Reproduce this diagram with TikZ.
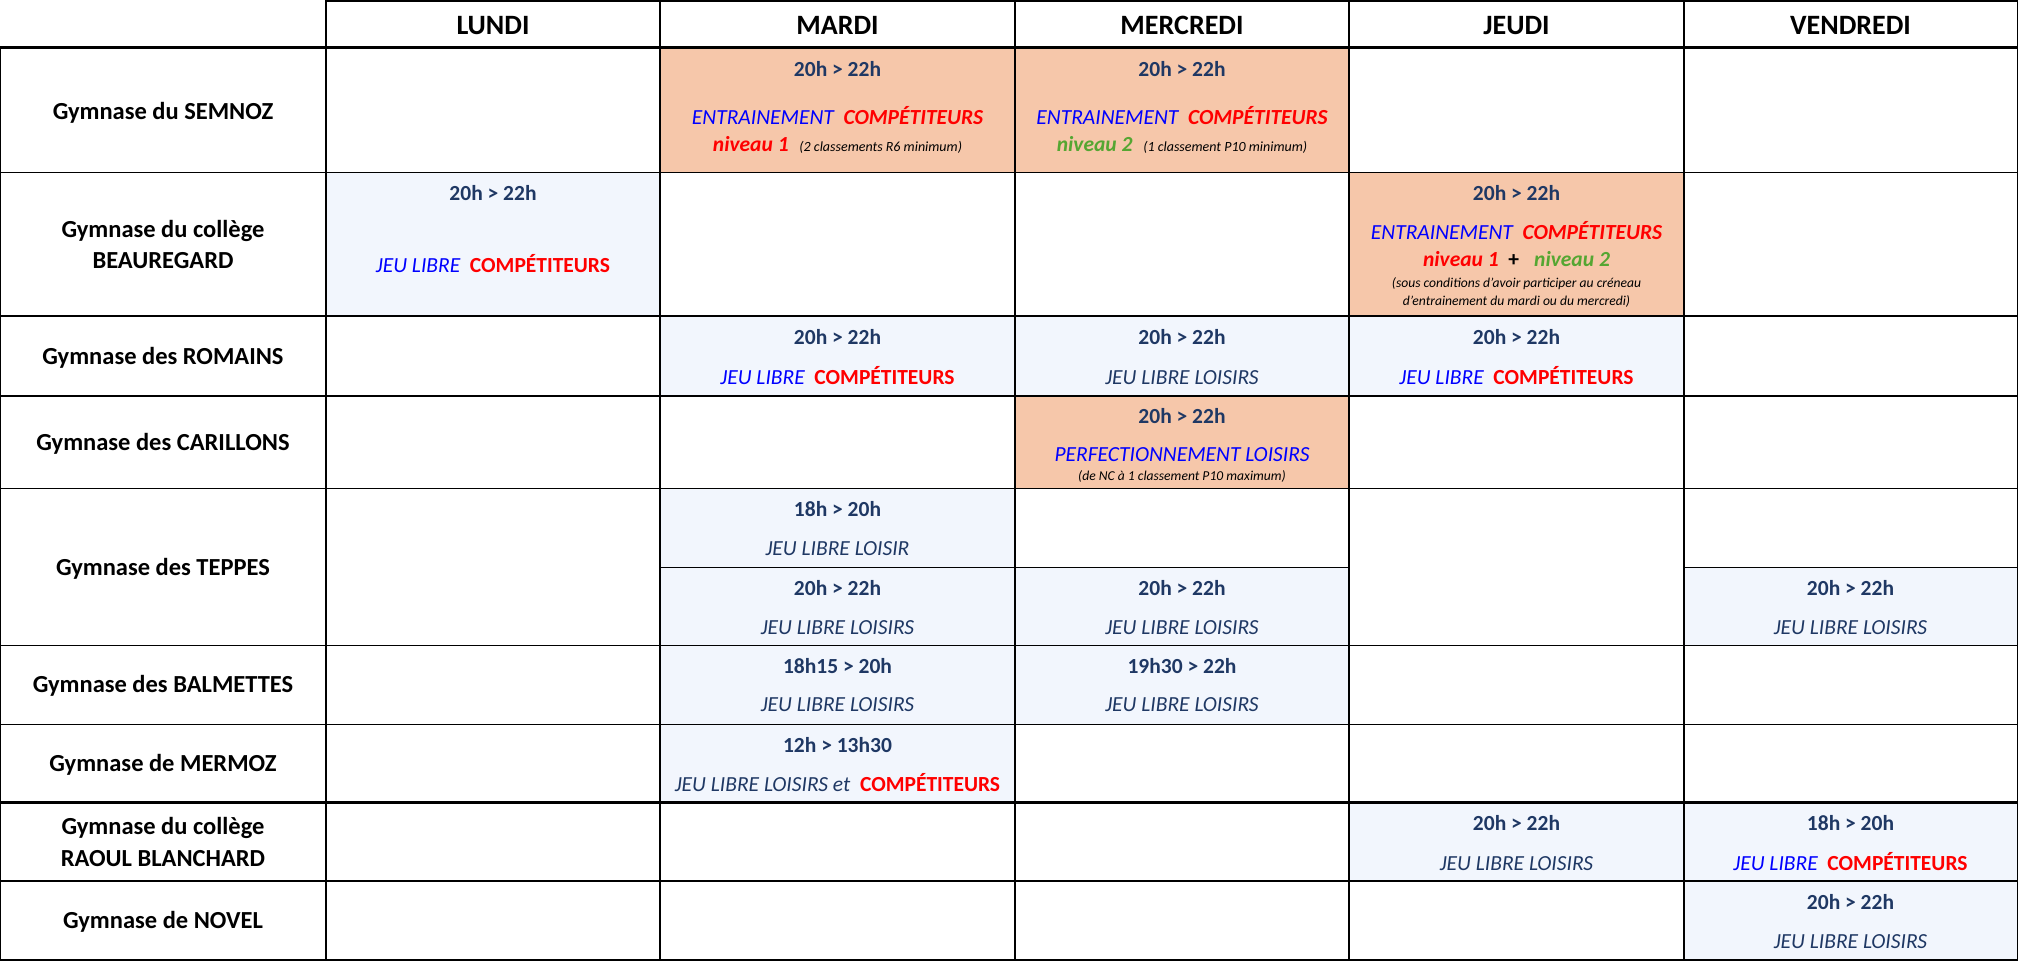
\documentclass[tikz,border=0pt]{standalone}
\usepackage{fontspec}
\setmainfont{Carlito}
\definecolor{navy}{HTML}{1F3864}
\definecolor{peach}{HTML}{F6C7AA}
\definecolor{lblue}{HTML}{F2F6FD}
\definecolor{pureblue}{HTML}{0000FF}
\definecolor{pred}{HTML}{FF0000}
\definecolor{pgreen}{HTML}{55A632}
\newcommand{\cp}{{\bfseries\color{pred}COMPÉTITEURS}}
\newcommand{\cpu}{{\bfseries\upshape\color{pred}COMPÉTITEURS}}
\newcommand{\jl}{{\itshape\color{pureblue}JEU LIBRE}}
\newcommand{\ent}{{\itshape\color{pureblue}ENTRAINEMENT}}
\newcommand{\nvA}{{\bfseries\itshape\color{pred}niveau 1}}
\newcommand{\nvB}{{\bfseries\itshape\color{pgreen}niveau 2}}
\tikzset{
  hd/.style={font=\fontsize{28}{30}\selectfont\bfseries, anchor=base, inner sep=0pt},
  gym/.style={font=\fontsize{24.5}{30}\selectfont\bfseries, anchor=base, inner sep=0pt},
  tm/.style={font=\fontsize{21.5}{24}\selectfont\bfseries, text=navy, anchor=base, inner sep=0pt},
  act/.style={font=\fontsize{21.5}{24}\selectfont\itshape, anchor=base, inner sep=0pt},
  lois/.style={act, text=navy},
  sm/.style={font=\fontsize{13.6}{17}\selectfont\itshape, anchor=base, inner sep=0pt},
  gl/.style={line width=1.3pt, black},
  glthick/.style={line width=2.7pt, black},
  pfill/.style={fill=peach},
  bfill/.style={fill=lblue},
}
\begin{document}
\begin{tikzpicture}[x=1pt,y=-1pt]
\useasboundingbox (0,0) rectangle (2019,962);
% ---- fills
% peach
\fill[pfill] (660,47.7) rectangle (1015,172.3);
\fill[pfill] (1015,47.7) rectangle (1349,172.3);
\fill[pfill] (1349,172.3) rectangle (1684,316);
\fill[pfill] (1015,396) rectangle (1349,488.3);
% light blue
\fill[bfill] (326,172.3) rectangle (660,316);
\fill[bfill] (660,316) rectangle (1015,396);
\fill[bfill] (1015,316) rectangle (1349,396);
\fill[bfill] (1349,316) rectangle (1684,396);
\fill[bfill] (660,488.3) rectangle (1015,567.3);
\fill[bfill] (660,567.3) rectangle (1015,645.5);
\fill[bfill] (1015,567.3) rectangle (1349,645.5);
\fill[bfill] (1684,567.3) rectangle (2017,645.5);
\fill[bfill] (660,645.5) rectangle (1015,724.3);
\fill[bfill] (1015,645.5) rectangle (1349,724.3);
\fill[bfill] (660,724.3) rectangle (1015,802.7);
\fill[bfill] (1349,802.7) rectangle (1684,881);
\fill[bfill] (1684,802.7) rectangle (2017,881);
\fill[bfill] (1684,881) rectangle (2017,960);

% ---- grid
% horizontal
\draw[gl] (326,1) -- (2017,1);
\draw[glthick] (0,47.7) -- (2018,47.7);
\draw[gl] (0,172.3) -- (2017,172.3);
\draw[gl] (0,316) -- (2017,316);
\draw[glthick] (0,396) -- (2018,396);
\draw[gl] (0,488.3) -- (2017,488.3);
\draw[gl] (660,567.3) -- (1349,567.3);
\draw[gl] (1684,567.3) -- (2017,567.3);
\draw[gl] (0,645.5) -- (2017,645.5);
\draw[gl] (0,724.3) -- (2017,724.3);
\draw[glthick] (0,802.7) -- (2018,802.7);
\draw[gl] (0,881) -- (2017,881);
\draw[gl] (0,960) -- (2017,960);
% vertical
\draw[gl] (0.8,47.7) -- (0.8,960.6);
\draw[gl] (326,0.4) -- (326,960.6);
\draw[gl] (660,0.4) -- (660,960.6);
\draw[line width=1.8pt] (1015,0.4) -- (1015,960.6);
\draw[line width=1.8pt] (1349,0.4) -- (1349,960.6);
\draw[gl] (1684,0.4) -- (1684,960.6);
\draw[gl] (2017.5,0.4) -- (2017.5,960.6);

% ---- header
\node[hd] (hLun) at (493,34) {LUNDI};
\node[hd] (hMar) at (837.5,34) {MARDI};
\node[hd] (hMer) at (1182,34) {MERCREDI};
\node[hd] (hJeu) at (1516.5,34) {JEUDI};
\node[hd] (hVen) at (1850.5,34) {VENDREDI};

% ---- gym labels
\node[gym] (g1) at (163,119) {Gymnase du SEMNOZ};
\node[gym] (g2a) at (163,237.3) {Gymnase du collège};
\node[gym] (g2b) at (163,268.3) {BEAUREGARD};
\node[gym] (g3) at (163,364.3) {Gymnase des ROMAINS};
\node[gym] (g4) at (163,450.7) {Gymnase des CARILLONS};
\node[gym] (g5) at (163,575.3) {Gymnase des TEPPES};
\node[gym] (g6) at (163,692.7) {Gymnase des BALMETTES};
\node[gym] (g7) at (163,771.7) {Gymnase de MERMOZ};
\node[gym] (g8a) at (163,834) {Gymnase du collège};
\node[gym] (g8b) at (163,866) {RAOUL BLANCHARD};
\node[gym] (g9) at (163,928.3) {Gymnase de NOVEL};

% ---- SEMNOZ
\node[tm] (s2t) at (837.5,76) {20h > 22h};
\node[act] (s2a) at (837.5,124) {\ent\hspace{0.45em}\cp};
\node[act] (s2b) at (837.5,151.5) {\nvA\hspace{0.5em}{\fontsize{14}{17}\selectfont\itshape\color{black}(2 classements R6 minimum)}};
\node[tm] (s3t) at (1182,76) {20h > 22h};
\node[act] (s3a) at (1182,124) {\ent\hspace{0.45em}\cp};
\node[act] (s3b) at (1182,151.5) {\nvB\hspace{0.5em}{\fontsize{14}{17}\selectfont\itshape\color{black}(1 classement P10 minimum)}};

% ---- BEAUREGARD
\node[tm] (b1t) at (493,200) {20h > 22h};
\node[act] (b1a) at (493,272.3) {\jl\hspace{0.45em}\cpu};
\node[tm] (b4t) at (1516.5,200) {20h > 22h};
\node[act] (b4a) at (1516.5,239) {\ent\hspace{0.45em}\cp};
\node[act] (b4b) at (1516.5,266.7) {\nvA\hspace{0.45em}{\bfseries\upshape\color{black}+}\hspace{0.7em}\nvB};
\node[sm] (b4c) at (1516.5,287.7) {(sous conditions d'avoir participer au créneau};
\node[sm] (b4d) at (1516.5,305.7) {d'entrainement du mardi ou du mercredi)};

% ---- ROMAINS
\node[tm] (r2t) at (837.5,344.3) {20h > 22h};
\node[act] (r2a) at (837.5,384) {\jl\hspace{0.45em}\cpu};
\node[tm] (r3t) at (1182,344.3) {20h > 22h};
\node[lois] (r3a) at (1182,384) {JEU LIBRE LOISIRS};
\node[tm] (r4t) at (1516.5,344.3) {20h > 22h};
\node[act] (r4a) at (1516.5,384) {\jl\hspace{0.45em}\cpu};

% ---- CARILLONS
\node[tm] (c3t) at (1182,423.3) {20h > 22h};
\node[act, text=pureblue] (c3a) at (1182,461) {PERFECTIONNEMENT LOISIRS};
\node[sm] (c3b) at (1182,480) {(de NC à 1 classement P10 maximum)};

% ---- TEPPES
\node[tm] (t2t) at (837.5,516) {18h > 20h};
\node[lois] (t2a) at (837.5,555) {JEU LIBRE LOISIR};
\node[tm] (t2u) at (837.5,595) {20h > 22h};
\node[lois] (t2b) at (837.5,634) {JEU LIBRE LOISIRS};
\node[tm] (t3u) at (1182,595) {20h > 22h};
\node[lois] (t3b) at (1182,634) {JEU LIBRE LOISIRS};
\node[tm] (t5u) at (1850.5,595) {20h > 22h};
\node[lois] (t5b) at (1850.5,634) {JEU LIBRE LOISIRS};

% ---- BALMETTES
\node[tm] (l2t) at (837.5,673.3) {18h15 > 20h};
\node[lois] (l2a) at (837.5,711.7) {JEU LIBRE LOISIRS};
\node[tm] (l3t) at (1182,673.3) {19h30 > 22h};
\node[lois] (l3a) at (1182,711.7) {JEU LIBRE LOISIRS};

% ---- MERMOZ
\node[tm] (m2t) at (837.5,752.3) {12h > 13h30};
\node[lois] (m2a) at (837.5,791) {JEU LIBRE LOISIRS et\hspace{0.45em}\cpu};

% ---- RAOUL BLANCHARD
\node[tm] (k4t) at (1516.5,830) {20h > 22h};
\node[lois] (k4a) at (1516.5,870) {JEU LIBRE LOISIRS};
\node[tm] (k5t) at (1850.5,830) {18h > 20h};
\node[act] (k5a) at (1850.5,870) {\jl\hspace{0.45em}\cpu};

% ---- NOVEL
\node[tm] (n5t) at (1850.5,909.3) {20h > 22h};
\node[lois] (n5a) at (1850.5,948.3) {JEU LIBRE LOISIRS};
\end{tikzpicture}
\end{document}
